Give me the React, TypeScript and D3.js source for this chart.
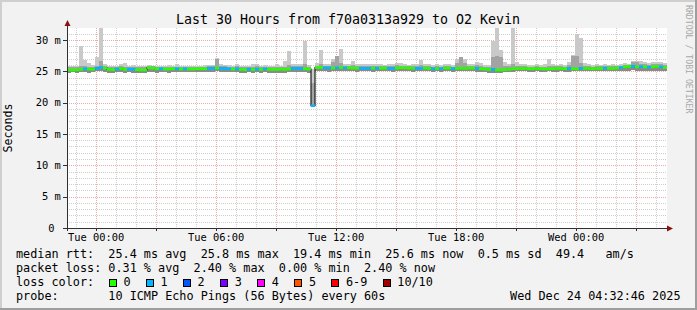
import React from "react";
import * as d3 from "d3";

const W = 697;
const H = 310;
const START = new Date(2025, 11, 22, 22, 32, 46);
const END = new Date(2025, 11, 24, 4, 32, 46);
const STEP_MIN = 12;

// median rtt per 12-minute step (ms)
const median = [
  25.2, 25.2, 25.25, 25.3, 25.4, 25.35, 25.3, 25.45, 25.6, 25.5,
  25.3, 25.25, 25.35, 25.45, 25.3, 25.35, 25.35, 25.25, 25.2, 25.2,
  25.55, 25.5, 25.4, 25.4, 25.35, 25.35, 25.4, 25.4, 25.35, 25.4,
  25.35, 25.35, 25.4, 25.4, 25.4, 25.45, 25.45, 25.5, 25.45, 25.45,
  25.4, 25.35, 25.4, 25.3, 25.25, 25.35, 25.3, 25.35, 25.3, 25.4,
  25.3, 25.3, 25.3, 25.35, 25.3, 25.35, 25.45, 25.45, 25.45, 25.4, 25.35, 19.5,
  25.6, 25.6, 25.55, 25.55, 25.5, 25.55, 25.6, 25.55,
  25.55, 25.5, 25.5, 25.45, 25.45, 25.45, 25.5, 25.45, 25.5, 25.5,
  25.45, 25.45, 25.5, 25.55, 25.55, 25.5, 25.5, 25.45, 25.45, 25.5,
  25.45, 25.4, 25.45, 25.4, 25.5, 25.5, 25.4, 25.45, 25.5, 25.45,
  25.5, 25.5, 25.45, 25.4, 25.35, 25.3, 25.3, 25.2, 25.2, 25.25,
  25.3, 25.4, 25.4, 25.45, 25.45, 25.4, 25.4, 25.45, 25.4, 25.35,
  25.4, 25.4, 25.45, 25.45, 25.4, 25.45, 25.4, 25.35, 25.45, 25.45,
  25.45, 25.4, 25.45, 25.45, 25.5, 25.45, 25.45, 25.5, 25.6, 25.7,
  25.75, 25.8, 25.7, 25.75, 25.7, 25.65, 25.7, 25.75, 25.7, 25.6,
];

// lost pings (of 10) per step
const loss = [
  0, 0, 0, 0, 1, 0, 0, 1, 1, 0,
  0, 0, 1, 0, 0, 1, 1, 0, 0, 0,
  0, 0, 0, 1, 0, 0, 0, 1, 0, 1,
  0, 0, 0, 0, 0, 1, 1, 0, 1, 1,
  1, 0, 1, 0, 0, 1, 0, 1, 0, 1,
  0, 0, 0, 0, 0, 0, 1, 1, 1, 0, 0, 1,
  0, 0, 1, 1, 0, 1, 0, 1,
  0, 0, 0, 1, 1, 1, 0, 1, 0, 0,
  1, 1, 0, 0, 0, 0, 0, 1, 1, 0,
  0, 1, 0, 1, 0, 0, 1, 0, 0, 0,
  0, 0, 1, 0, 0, 0, 1, 0, 0, 0,
  0, 0, 0, 0, 0, 0, 0, 0, 0, 0,
  0, 0, 0, 0, 0, 1, 0, 0, 1, 0,
  0, 0, 0, 0, 1, 0, 0, 0, 1, 0,
  0, 1, 0, 1, 0, 1, 0, 0, 1, 0,
];

// highest ping per step (ms)
const smokeMax = [
  25.9, 25.9, 25.9, 29.1, 26.8, 26.3, 26.0, 27.3, 32.0, 26.1,
  25.9, 25.8, 25.9, 26.2, 26.3, 25.9, 26.0, 25.8, 25.9, 25.8,
  26.0, 25.9, 25.9, 25.9, 25.9, 26.0, 25.9, 26.1, 25.9, 25.9,
  25.9, 25.9, 25.9, 25.9, 26.0, 26.0, 26.0, 27.1, 26.1, 26.0,
  26.0, 25.9, 26.1, 25.9, 25.8, 25.9, 26.2, 26.2, 25.9, 26.0,
  25.9, 25.9, 26.2, 25.9, 26.6, 28.2, 26.2, 26.1, 26.2, 29.8, 26.0, 25.4,
  26.3, 28.4, 26.1, 26.2, 26.9, 27.5, 28.5, 26.2,
  26.1, 26.6, 26.1, 26.2, 26.2, 26.1, 26.2, 26.1, 26.1, 26.0,
  26.1, 26.1, 26.3, 26.3, 26.1, 26.0, 26.1, 26.1, 26.8, 26.1,
  26.1, 26.0, 26.1, 26.0, 26.1, 26.1, 26.0, 27.0, 27.2, 27.0,
  26.1, 26.1, 26.5, 26.3, 26.0, 26.0, 29.8, 32.0, 28.4, 26.5,
  26.2, 32.0, 26.5, 26.1, 26.1, 26.0, 26.0, 26.1, 26.0, 26.1,
  26.9, 26.1, 26.0, 26.1, 26.0, 26.5, 27.6, 31.0, 30.3, 26.3,
  26.1, 26.0, 26.2, 26.0, 26.1, 26.0, 26.1, 26.0, 26.2, 26.3,
  26.2, 26.7, 26.7, 26.6, 26.4, 26.3, 26.5, 26.4, 26.5, 26.3,
];

// upper edge of the dense smoke (ms)
const smokeHi = [
  25.6, 25.6, 25.6, 25.8, 25.8, 25.7, 25.7, 25.9, 26.6, 25.8,
  25.7, 25.6, 25.7, 25.8, 25.7, 25.7, 25.7, 25.6, 25.6, 25.6,
  25.8, 25.8, 25.7, 25.7, 25.7, 25.7, 25.7, 25.7, 25.7, 25.7,
  25.7, 25.7, 25.7, 25.7, 25.7, 25.8, 25.8, 26.9, 25.8, 25.8,
  25.7, 25.7, 25.8, 25.6, 25.6, 25.7, 25.7, 25.8, 25.6, 25.7,
  25.6, 25.6, 25.7, 25.7, 25.7, 26.0, 25.8, 25.8, 25.8, 26.2, 25.7, 23.1,
  25.9, 26.1, 25.9, 25.9, 26.5, 27.4, 26.3, 25.9,
  25.9, 26.0, 25.8, 25.8, 25.8, 25.8, 25.8, 25.8, 25.8, 25.8,
  25.8, 25.8, 26.0, 25.9, 25.8, 25.8, 25.8, 25.8, 26.0, 25.8,
  25.8, 25.7, 25.8, 25.7, 25.8, 25.8, 25.7, 26.3, 27.2, 26.3,
  25.8, 25.8, 26.0, 25.8, 25.7, 25.7, 27.3, 27.4, 27.3, 25.9,
  25.8, 26.2, 25.8, 25.8, 25.8, 25.7, 25.7, 25.8, 25.7, 25.7,
  25.9, 25.8, 25.8, 25.8, 25.7, 26.0, 27.5, 27.5, 26.3, 25.9,
  25.8, 25.7, 25.8, 25.8, 25.8, 25.8, 25.8, 25.8, 25.9, 26.0,
  26.0, 26.5, 26.5, 26.2, 26.1, 26.0, 26.1, 26.1, 26.2, 26.0,
];

// lowest ping per step (ms)
const smokeMin = [
  24.8, 24.9, 24.8, 24.9, 24.9, 24.8, 24.9, 25.0, 25.0, 24.9,
  24.8, 24.8, 24.9, 24.9, 24.8, 24.9, 24.8, 24.8, 24.8, 24.8,
  24.9, 24.9, 24.8, 24.9, 24.9, 24.8, 24.9, 24.9, 24.9, 24.9,
  24.9, 24.9, 24.9, 24.9, 24.9, 24.9, 24.9, 25.0, 24.9, 24.9,
  24.9, 24.9, 24.9, 24.8, 24.8, 24.9, 24.8, 24.9, 24.8, 24.9,
  24.8, 24.8, 24.8, 24.8, 24.8, 24.9, 24.9, 24.9, 24.9, 24.9, 24.8, 19.3,
  25.0, 25.0, 25.0, 24.9, 25.0, 25.0, 25.0, 25.0,
  25.0, 25.0, 24.9, 25.0, 25.0, 25.0, 24.9, 25.0, 25.0, 25.0,
  25.0, 24.9, 25.0, 25.0, 25.0, 25.0, 24.9, 25.0, 25.0, 25.0,
  25.0, 24.9, 25.0, 24.9, 25.0, 25.0, 24.9, 25.0, 25.0, 25.0,
  25.0, 25.0, 24.9, 24.9, 24.9, 24.8, 24.8, 24.8, 24.8, 24.9,
  24.9, 24.9, 25.0, 25.0, 25.0, 24.9, 24.9, 25.0, 24.9, 24.9,
  25.0, 24.9, 24.9, 25.0, 24.9, 24.9, 25.0, 25.0, 25.0, 25.0,
  25.0, 25.0, 25.0, 25.0, 25.0, 25.0, 25.0, 25.0, 25.1, 25.1,
  25.1, 25.2, 25.1, 25.1, 25.1, 25.1, 25.1, 25.1, 25.1, 25.0,
];

const yTicks = [0, 5, 10, 15, 20, 25, 30];
const lossLabels = ["0", "1", "2", "3", "4", "5", "6-9", "10/10"];
const lossColors = ["#26ff00", "#00b8ff", "#0059ff", "#7e00ff", "#ff00ff", "#ff5500", "#ff0000", "#a10000"];

const titleText = "Last 30 Hours from f70a0313a929 to O2 Kevin";
const rttLine = "median rtt:  25.4 ms avg  25.8 ms max  19.4 ms min  25.6 ms now  0.5 ms sd  49.4   am/s";
const lossLine = "packet loss: 0.31 % avg  2.40 % max  0.00 % min  2.40 % now";
const lossColorLabel = "loss color:";
const probeLine = "probe:       10 ICMP Echo Pings (56 Bytes) every 60s";
const dateText = "Wed Dec 24 04:32:46 2025";
const sideText = "RRDTOOL / TOBI OETIKER";

const MONO = "'DejaVu Sans Mono', monospace";

export default function App() {
  const x = d3.scaleTime().domain([START, END]).range([67, 667]);
  const y = d3.scaleLinear().domain([0, 31.9]).range([228, 28]).clamp(true);
  const times = median.map((_, i) => d3.timeMinute.offset(START, i * STEP_MIN));
  const x0 = (i: number) => x(times[i]);
  const x1 = (i: number) => x(d3.timeMinute.offset(times[i], STEP_MIN));

  const hours = x.ticks(d3.timeHour.every(1)!);
  const major = hours.filter((d) => d.getHours() % 3 === 0);
  const minor = hours.filter((d) => d.getHours() % 3 !== 0);
  const labels = hours.filter((d) => d.getHours() % 6 === 0);
  const fmt = d3.timeFormat("%a %H:%M");
  const minorY = d3.range(1, 32).filter((v) => v % 5 !== 0);

  const linePts = times.map((t, i) => ({ t, v: median[i] }));
  linePts.push({ t: END, v: median[median.length - 1] });
  const medLine = d3
    .line<{ t: Date; v: number }>()
    .x((d) => x(d.t))
    .y((d) => y(d.v))
    .curve(d3.curveStepAfter)(linePts);

  const cw = 7.1;
  const legend: { bx: number; tx: number }[] = [];
  let cur = 108.7;
  lossLabels.forEach((l) => {
    legend.push({ bx: cur, tx: cur + 14.7 });
    cur = cur + 14.7 + l.length * cw + 15.3;
  });

  const hy = (v: number) => Math.round(y(v)) + 0.5;
  const vx = (d: Date) => Math.round(x(d)) + 0.5;

  return (
    <svg
      width={W}
      height={H}
      style={{ position: "fixed", left: 0, top: 0, display: "block" }}
      xmlns="http://www.w3.org/2000/svg"
    >
      <rect x={0} y={0} width={W} height={H} fill="#f2f2f2" />
      <rect x={0} y={0} width={W} height={2} fill="#cfcfcf" />
      <rect x={0} y={0} width={2} height={H} fill="#cfcfcf" />
      <rect x={0} y={H - 2} width={W} height={2} fill="#9e9e9e" />
      <rect x={W - 2} y={0} width={2} height={H} fill="#9e9e9e" />

      <rect x={67} y={28} width={600} height={200} fill="#ffffff" />

      {/* grid */}
      <g shapeRendering="crispEdges" strokeDasharray="1,1" strokeWidth={1}>
        {minorY.map((v) => (
          <line key={"my" + v} x1={67} x2={667} y1={hy(v)} y2={hy(v)} stroke="#cecece" />
        ))}
        {minor.map((d, i) => (
          <line key={"mx" + i} x1={vx(d)} x2={vx(d)} y1={28} y2={228} stroke="#cecece" />
        ))}
        {yTicks.filter((v) => v > 0).map((v) => (
          <line key={"My" + v} x1={67} x2={667} y1={hy(v)} y2={hy(v)} stroke="#eeaaaa" />
        ))}
        {major.map((d, i) => (
          <line key={"Mx" + i} x1={vx(d)} x2={vx(d)} y1={28} y2={228} stroke="#eeaaaa" />
        ))}
      </g>

      {/* smoke */}
      <g shapeRendering="crispEdges">
        {median.map((_, i) => (
          <rect key={"s1" + i} x={x0(i)} width={x1(i) - x0(i)} y={y(smokeMax[i])} height={y(smokeMin[i]) - y(smokeMax[i])} fill="#c9c9c9" />
        ))}
        {median.map((_, i) => (
          <rect key={"s2" + i} x={x0(i)} width={x1(i) - x0(i)} y={y(smokeHi[i])} height={y(smokeMin[i]) - y(smokeHi[i])} fill="#a3a3a3" />
        ))}
        {median.map((_, i) => (
          <rect key={"s3" + i} x={x0(i)} width={x1(i) - x0(i)} y={y(median[i])} height={Math.max(0, y(smokeMin[i]) - y(median[i]))} fill="#8a8a8a" />
        ))}
      </g>

      {/* median */}
      <path d={medLine || ""} fill="none" stroke="#202020" strokeWidth={1.2} />
      <g>
        {median.map((m, i) => (
          <rect key={"m" + i} x={x0(i)} width={x1(i) - x0(i)} y={y(m) - 1.3} height={2.6} fill={lossColors[loss[i]]} />
        ))}
      </g>

      {/* axes */}
      <g shapeRendering="crispEdges" stroke="#303030">
        <line x1={64} x2={670} y1={228.5} y2={228.5} />
        <line x1={67.5} x2={67.5} y1={231} y2={24} />
        {yTicks.map((v) => (
          <line key={"yt" + v} x1={63} x2={67} y1={hy(v)} y2={hy(v)} />
        ))}
        {major.map((d, i) => (
          <line key={"xt" + i} x1={vx(d)} x2={vx(d)} y1={228} y2={231} />
        ))}
      </g>
      <path d="M667,225.5 L673,228.5 L667,231.5 Z" fill="#8b1010" />
      <path d="M64.5,26 L67.5,20 L70.5,26 Z" fill="#8b1010" />

      {/* texts */}
      <text x={348} y={23.5} textAnchor="middle" fontFamily={MONO} fontSize={13.3} fill="#000">
        {titleText}
      </text>
      <g fontFamily={MONO} fontSize={10.4} fill="#000">
        {yTicks.map((v) => (
          <text key={"yl" + v} x={v === 0 ? 54.6 : 60.8} y={y(v) + 3.6} textAnchor="end">
            {v === 0 ? "0" : `${v} m`}
          </text>
        ))}
        {labels.map((d, i) => (
          <text key={"xl" + i} x={x(d)} y={241} textAnchor="middle">
            {fmt(d)}
          </text>
        ))}
      </g>
      <text
        transform="translate(12.2,128) rotate(-90)"
        textAnchor="middle"
        fontFamily={MONO}
        fontSize={11.6}
        fill="#000"
      >
        Seconds
      </text>
      <text
        transform="translate(686.3,5) rotate(90)"
        fontFamily={MONO}
        fontSize={8.2}
        fill="#a8a8a8"
      >
        {sideText}
      </text>

      <g fontFamily={MONO} fontSize={11.8} fill="#000" style={{ whiteSpace: "pre" }}>
        <text x={16} y={258.3} xmlSpace="preserve">{rttLine}</text>
        <text x={16} y={272.3} xmlSpace="preserve">{lossLine}</text>
        <text x={16} y={286.3}>{lossColorLabel}</text>
        {lossLabels.map((l, i) => (
          <g key={"lg" + i}>
            <rect x={legend[i].bx + 0.5} y={279.5} width={7} height={7} fill={lossColors[i]} stroke="#000" strokeWidth={1} shapeRendering="crispEdges" />
            <text x={legend[i].tx} y={286.3}>{l}</text>
          </g>
        ))}
        <text x={16} y={300.2} xmlSpace="preserve">{probeLine}</text>
        <text x={680.5} y={300.2} textAnchor="end">
          {dateText}
        </text>
      </g>
    </svg>
  );
}
